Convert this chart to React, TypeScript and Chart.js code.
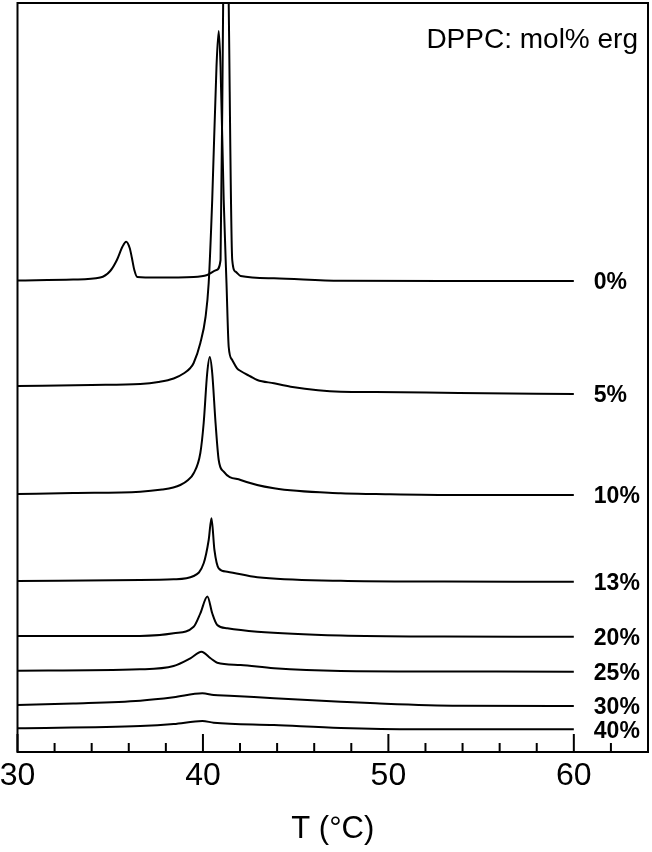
import React, { useEffect, useRef } from "react";
import { Chart, registerables } from "chart.js";

Chart.register(...registerables);

// Temperature (°C) and excess heat capacity (arbitrary units, offset stacked)
const SERIES_LABELS = ["0%", "5%", "10%", "13%", "20%", "25%", "30%", "40%"];
const ANNOTATION = "DPPC: mol% erg";
const X_TICK_LABELS = [30, 40, 50, 60];
const X_MINOR_TICKS = [30, 32, 34, 36, 38, 40, 42, 44, 46, 48, 50, 52, 54, 56, 58, 60, 62];

const T_0 = [30, 33, 34.46, 35.0, 35.36, 35.65, 35.86, 36.05, 36.17, 36.3, 36.46, 37.5, 39.5, 40.23, 40.73, 40.95, 41.09, 41.24, 41.39, 41.58, 41.76, 42.03, 43.83, 47.43, 53, 60];
const CP_0 = [471.5, 472.5, 474.5, 481, 492, 505, 510.3, 504, 494, 482, 475, 474.5, 475, 477, 482, 492, 749, 1000, 749, 492, 480.3, 476, 473.7, 471.3, 471, 471];

const T_5 = [30, 34, 36.62, 37.6, 38.42, 39.0, 39.32, 39.5, 39.86, 40.14, 40.31, 40.5, 40.73, 40.85, 40.95, 41.12, 41.27, 41.39, 41.58, 41.84, 42.03, 42.57, 42.93, 43.83, 44.73, 47.43, 49.32, 53.81, 60];
const CP_5 = [366, 367, 368, 370, 373.5, 379, 384, 389, 409, 435, 469, 552, 685, 721, 685, 552, 469, 405, 392, 383.7, 381, 375.5, 372, 368.7, 365.3, 360.3, 360, 359, 358];

const T_10 = [30, 33, 36.62, 37.8, 38.4, 38.78, 39.2, 39.5, 39.86, 40.04, 40.23, 40.37, 40.5, 40.68, 40.85, 41.12, 42.03, 43.83, 47.43, 49.32, 53.81, 60];
const CP_10 = [258, 259, 260.3, 262.5, 264.5, 267, 272, 278.7, 299, 329, 379, 395, 379, 329, 292, 280.3, 272, 263.7, 258.7, 258, 257, 257];

const T_13 = [30, 36.62, 38.42, 39.5, 40.04, 40.31, 40.46, 40.62, 40.85, 41.31, 42.93, 47.43, 53, 60];
const CP_13 = [171, 172, 172.7, 176, 188.7, 212, 233.7, 202, 183.7, 180.3, 174.7, 171.3, 170.5, 170.3];

const T_20 = [30, 36.6, 38.42, 39.5, 39.86, 40.24, 40.5, 40.77, 41.31, 42.93, 47.43, 53, 60];
const CP_20 = [116, 116, 118.7, 125.3, 138.7, 155.5, 138.7, 127, 123.7, 120.3, 116.5, 115.5, 115.3];

const T_25 = [30, 36.6, 38.42, 39.32, 39.92, 40.41, 40.77, 42.03, 43.83, 47.43, 53, 60];
const CP_25 = [81.3, 82.7, 86, 93.7, 100.3, 93.7, 89.3, 87, 83.7, 81, 80.5, 80.3];

const T_30 = [30, 33, 36.62, 38.42, 39.97, 40.58, 41.43, 43.83, 47.43, 49.32, 53.81, 60];
const CP_30 = [47, 48.5, 51.3, 54.7, 58.7, 57, 56.3, 53.7, 50.3, 48.7, 46.3, 46];

const T_40 = [30, 36.62, 38.42, 39.97, 40.58, 43.83, 47.43, 51.59, 60];
const CP_40 = [23.7, 26, 28, 31, 29.3, 27, 24, 22.7, 22.7];

const SERIES = [
  { label: SERIES_LABELS[0], t: T_0, cp: CP_0 },
  { label: SERIES_LABELS[1], t: T_5, cp: CP_5 },
  { label: SERIES_LABELS[2], t: T_10, cp: CP_10 },
  { label: SERIES_LABELS[3], t: T_13, cp: CP_13 },
  { label: SERIES_LABELS[4], t: T_20, cp: CP_20 },
  { label: SERIES_LABELS[5], t: T_25, cp: CP_25 },
  { label: SERIES_LABELS[6], t: T_30, cp: CP_30 },
  { label: SERIES_LABELS[7], t: T_40, cp: CP_40 },
];

const FONT = '"Liberation Sans", Arial, Helvetica, sans-serif';

const decorPlugin = {
  id: "decor",
  afterDraw(chart: any) {
    const { ctx, chartArea: a, scales } = chart;
    const xs = scales.x;
    const ys = scales.y;
    ctx.save();
    ctx.strokeStyle = "#000";
    ctx.lineWidth = 2;
    ctx.strokeRect(a.left, a.top, a.right - a.left, a.bottom - a.top);
    for (const v of X_MINOR_TICKS) {
      const px = xs.getPixelForValue(v);
      const len = X_TICK_LABELS.includes(v) ? 18 : 9;
      ctx.beginPath();
      ctx.moveTo(px, a.bottom);
      ctx.lineTo(px, a.bottom - len);
      ctx.stroke();
    }
    ctx.fillStyle = "#000";
    ctx.font = `bold 23px ${FONT}`;
    ctx.textAlign = "left";
    ctx.textBaseline = "middle";
    const lx = xs.getPixelForValue(60) + 20;
    SERIES.forEach((s) => {
      const last = s.cp[s.cp.length - 1];
      ctx.fillText(s.label, lx, ys.getPixelForValue(last) + 2);
    });
    ctx.font = `28px ${FONT}`;
    ctx.textAlign = "right";
    ctx.textBaseline = "alphabetic";
    ctx.fillText(ANNOTATION, a.right - 10, a.top + 45);
    ctx.restore();
  },
};

export default function App() {
  const ref = useRef<HTMLCanvasElement | null>(null);
  useEffect(() => {
    if (!ref.current) return;
    const chart = new Chart(ref.current, {
      type: "line",
      data: {
        datasets: SERIES.map((s) => ({
          label: s.label,
          data: s.t.map((t, i) => ({ x: t, y: s.cp[i] })),
          borderColor: "#000",
          borderWidth: 2,
          pointRadius: 0,
          fill: false,
          cubicInterpolationMode: "monotone" as const,
          clip: 0,
        })),
      },
      options: {
        animation: false,
        responsive: true,
        maintainAspectRatio: false,
        layout: { padding: { left: 17.5, top: 3, right: 4, bottom: 0 } },
        plugins: { legend: { display: false }, tooltip: { enabled: false } },
        scales: {
          x: {
            type: "linear",
            min: 30,
            max: 64,
            grid: { display: false, drawTicks: false },
            border: { display: false },
            afterBuildTicks: (s: any) => {
              s.ticks = X_TICK_LABELS.map((v) => ({ value: v }));
            },
            afterFit: (s: any) => {
              s.height = 100;
              s.paddingLeft = 0;
              s.paddingRight = 0;
            },
            ticks: {
              color: "#000",
              padding: 5,
              maxRotation: 0,
              autoSkip: false,
              font: { family: FONT, size: 32 },
            },
            title: {
              display: true,
              text: "T (°C)",
              color: "#000",
              font: { family: FONT, size: 31 },
              padding: { top: 0, bottom: 4 },
            },
          },
          y: {
            type: "linear",
            min: 0,
            max: 749,
            grid: { display: false, drawTicks: false },
            border: { display: false },
            ticks: { display: false },
            afterFit: (s: any) => {
              s.width = 0;
            },
          },
        },
      },
      plugins: [decorPlugin],
    });
    return () => chart.destroy();
  }, []);
  return (
    <div style={{ position: "fixed", left: 0, top: 0, width: 652, height: 852, background: "#fff" }}>
      <canvas ref={ref} />
    </div>
  );
}
